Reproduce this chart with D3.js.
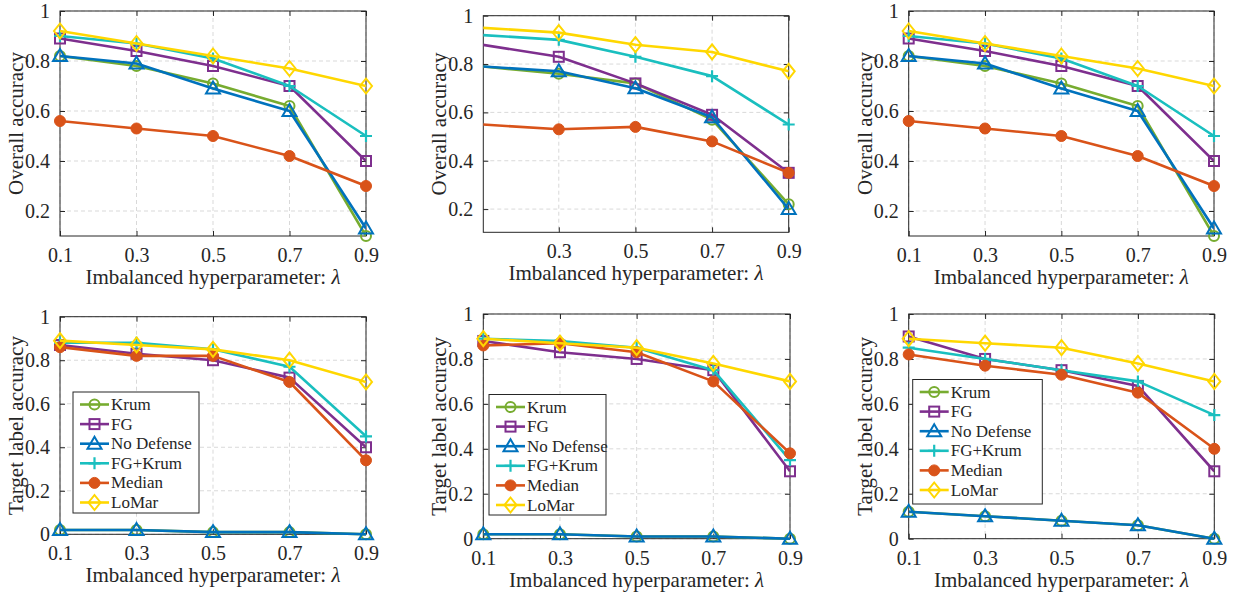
<!DOCTYPE html>
<html>
<head>
<meta charset="utf-8">
<script src="https://cdn.jsdelivr.net/npm/d3@7"></script>
<style>
  body { margin: 0; background: #fff; }
  svg, svg text { font-family: "Liberation Serif", "Times New Roman", serif; }
</style>
</head>
<body>
<div id="chart"></div>
<script>
(function () {

    // x values (imbalance hyperparameter)
    var lambdas = [0.1, 0.3, 0.5, 0.7, 0.9];
    var xTicks = [0.1, 0.3, 0.5, 0.7, 0.9];
    var yTicksOverall = [0.2, 0.4, 0.6, 0.8, 1];
    var yTicksTarget = [0, 0.2, 0.4, 0.6, 0.8, 1];

    var seriesNames = ["Krum", "FG", "No Defense", "FG+Krum", "Median", "LoMar"];
    var colors = ["#77AC30", "#7E2F8E", "#0072BD", "#1ABFBF", "#D95319", "#FFD700"];
    var markers = ["circle", "square", "triangle", "plus", "dot", "diamond"];

    // series rows follow seriesNames order
    var overallLeft = [
        [0.82, 0.78, 0.71, 0.62, 0.10],
        [0.89, 0.84, 0.78, 0.70, 0.40],
        [0.82, 0.79, 0.69, 0.60, 0.13],
        [0.90, 0.87, 0.81, 0.70, 0.50],
        [0.56, 0.53, 0.50, 0.42, 0.30],
        [0.92, 0.87, 0.82, 0.77, 0.70]
    ];
    var overallMid = [
        [0.79, 0.76, 0.72, 0.57, 0.22],
        [0.88, 0.83, 0.72, 0.59, 0.35],
        [0.79, 0.77, 0.70, 0.58, 0.20],
        [0.92, 0.90, 0.83, 0.75, 0.55],
        [0.55, 0.53, 0.54, 0.48, 0.35],
        [0.95, 0.93, 0.88, 0.85, 0.77]
    ];
    var overallRight = [
        [0.82, 0.78, 0.71, 0.62, 0.10],
        [0.89, 0.84, 0.78, 0.70, 0.40],
        [0.82, 0.79, 0.69, 0.60, 0.13],
        [0.90, 0.87, 0.81, 0.70, 0.50],
        [0.56, 0.53, 0.50, 0.42, 0.30],
        [0.92, 0.87, 0.82, 0.77, 0.70]
    ];
    var targetLeft = [
        [0.02, 0.02, 0.01, 0.01, 0.00],
        [0.87, 0.83, 0.80, 0.72, 0.40],
        [0.02, 0.02, 0.01, 0.01, 0.00],
        [0.88, 0.88, 0.85, 0.77, 0.45],
        [0.86, 0.82, 0.82, 0.70, 0.34],
        [0.89, 0.87, 0.85, 0.80, 0.70]
    ];
    var targetMid = [
        [0.02, 0.02, 0.01, 0.01, 0.00],
        [0.88, 0.83, 0.80, 0.75, 0.30],
        [0.02, 0.02, 0.01, 0.01, 0.00],
        [0.89, 0.88, 0.85, 0.75, 0.35],
        [0.86, 0.87, 0.83, 0.70, 0.38],
        [0.89, 0.87, 0.85, 0.78, 0.70]
    ];
    var targetRight = [
        [0.12, 0.10, 0.08, 0.06, 0.00],
        [0.90, 0.80, 0.75, 0.68, 0.30],
        [0.12, 0.10, 0.08, 0.06, 0.00],
        [0.85, 0.80, 0.75, 0.70, 0.55],
        [0.82, 0.77, 0.73, 0.65, 0.40],
        [0.89, 0.87, 0.85, 0.78, 0.70]
    ];

    //panel layout (pixel boxes + axis limits)
    var panels = [
        { data: overallLeft, ylabel: "Overall accuracy", x0: 60, x1: 366, y0: 11, y1: 236, xdom: [0.1, 0.9], ydom: [0.1, 1], yticks: yTicksOverall },
        { data: overallMid, ylabel: "Overall accuracy", x0: 483.3, x1: 788.7, y0: 15.7, y1: 232.3, xdom: [0.103, 0.9], ydom: [0.104, 1], yticks: yTicksOverall },
        { data: overallRight, ylabel: "Overall accuracy", x0: 908.7, x1: 1214, y0: 11, y1: 236, xdom: [0.1, 0.9], ydom: [0.1, 1], yticks: yTicksOverall },
        { data: targetLeft, ylabel: "Target label accuracy", x0: 60, x1: 366, y0: 316.7, y1: 534.3, xdom: [0.1, 0.9], ydom: [0, 1], yticks: yTicksTarget, legend: [73, 392, 126, 121] },
        { data: targetMid, ylabel: "Target label accuracy", x0: 483.3, x1: 790, y0: 314, y1: 538.7, xdom: [0.1, 0.9], ydom: [0, 1], yticks: yTicksTarget, legend: [489, 394.5, 117, 120.5] },
        { data: targetRight, ylabel: "Target label accuracy", x0: 908.7, x1: 1214.3, y0: 314, y1: 538.7, xdom: [0.1, 0.9], ydom: [0, 1], yticks: yTicksTarget, legend: [912.7, 379.5, 129.6, 124.5] }
    ];

    var axisColor = "#262626";
    var serif = "'Liberation Serif', 'Times New Roman', serif";
    var svg = d3.select("#chart").append("svg")
        .attr("width", 1235)
        .attr("height", 592)
        .attr("font-family", serif);

    var fmt = function (v) { return v === 1 ? "1" : v === 0 ? "0" : d3.format(".1f")(v); };

    function drawMarker(g, type, color, cx, cy) {
        if (type === "circle") {
            g.append("circle").attr("cx", cx).attr("cy", cy).attr("r", 5)
                .attr("fill", "none").attr("stroke", color).attr("stroke-width", 2);
        } else if (type === "dot") {
            g.append("circle").attr("cx", cx).attr("cy", cy).attr("r", 5.5)
                .attr("fill", color).attr("stroke", color).attr("stroke-width", 1);
        } else if (type === "square") {
            g.append("rect").attr("x", cx - 5).attr("y", cy - 5).attr("width", 10).attr("height", 10)
                .attr("fill", "none").attr("stroke", color).attr("stroke-width", 2);
        } else if (type === "triangle") {
            g.append("path").attr("d", "M" + cx + "," + (cy - 7) + "L" + (cx + 7) + "," + (cy + 5) + "L" + (cx - 7) + "," + (cy + 5) + "Z")
                .attr("fill", "none").attr("stroke", color).attr("stroke-width", 2).attr("stroke-linejoin", "miter");
        } else if (type === "plus") {
            g.append("path").attr("d", "M" + (cx - 6) + "," + cy + "H" + (cx + 6) + "M" + cx + "," + (cy - 6) + "V" + (cy + 6))
                .attr("fill", "none").attr("stroke", color).attr("stroke-width", 2.2);
        } else if (type === "diamond") {
            g.append("path").attr("d", "M" + cx + "," + (cy - 7.5) + "L" + (cx + 6) + "," + cy + "L" + cx + "," + (cy + 7.5) + "L" + (cx - 6) + "," + cy + "Z")
                .attr("fill", "none").attr("stroke", color).attr("stroke-width", 2);
        }
    }

    panels.forEach(function (p, pi) {
        var x = d3.scaleLinear().domain(p.xdom).range([p.x0, p.x1]);
        var y = d3.scaleLinear().domain(p.ydom).range([p.y1, p.y0]);
        var g = svg.append("g");

        var xt = xTicks.filter(function (t) { return t >= p.xdom[0] - 1e-9 && t <= p.xdom[1] + 1e-9; });
        var yt = p.yticks.filter(function (t) { return t >= p.ydom[0] - 1e-9 && t <= p.ydom[1] + 1e-9; });

        //dashed grid
        g.append("g").selectAll("line").data(xt).enter().append("line")
            .attr("x1", function (d) { return x(d); }).attr("x2", function (d) { return x(d); })
            .attr("y1", p.y0).attr("y2", p.y1)
            .attr("stroke", "#d9d9d9").attr("stroke-width", 1).attr("stroke-dasharray", "4,3");
        g.append("g").selectAll("line").data(yt).enter().append("line")
            .attr("y1", function (d) { return y(d); }).attr("y2", function (d) { return y(d); })
            .attr("x1", p.x0).attr("x2", p.x1)
            .attr("stroke", "#d9d9d9").attr("stroke-width", 1).attr("stroke-dasharray", "4,3");

        //axes with inward ticks on all four sides
        var tickStyle = function (sel) {
            sel.attr("font-family", serif).attr("font-size", 20);
            sel.select(".domain").remove();
            sel.selectAll(".tick line").attr("stroke", axisColor);
            sel.selectAll(".tick text").attr("fill", axisColor);
        };
        g.append("g").attr("transform", "translate(0," + p.y1 + ")")
            .call(d3.axisBottom(x).tickValues(xt).tickFormat(fmt).tickSizeInner(-5).tickPadding(12))
            .call(tickStyle);
        g.append("g").attr("transform", "translate(0," + p.y0 + ")")
            .call(d3.axisTop(x).tickValues(xt).tickFormat("").tickSizeInner(-5))
            .call(tickStyle);
        g.append("g").attr("transform", "translate(" + p.x0 + ",0)")
            .call(d3.axisLeft(y).tickValues(yt).tickFormat(fmt).tickSizeInner(-5).tickPadding(10))
            .call(tickStyle);
        g.append("g").attr("transform", "translate(" + p.x1 + ",0)")
            .call(d3.axisRight(y).tickValues(yt).tickFormat("").tickSizeInner(-5))
            .call(tickStyle);

        g.append("rect").attr("x", p.x0).attr("y", p.y0)
            .attr("width", p.x1 - p.x0).attr("height", p.y1 - p.y0)
            .attr("fill", "none").attr("stroke", axisColor).attr("stroke-width", 1);

        //axis labels
        var xl = g.append("text")
            .attr("x", (p.x0 + p.x1) / 2).attr("y", p.y1 + 48)
            .attr("text-anchor", "middle").attr("fill", axisColor)
            .attr("font-family", serif).attr("font-size", 21);
        xl.append("tspan").text("Imbalanced hyperparameter: ");
        xl.append("tspan").attr("font-style", "italic").text("λ");

        g.append("text")
            .attr("transform", "translate(" + (p.x0 - 37) + "," + ((p.y0 + p.y1) / 2) + ") rotate(-90)")
            .attr("text-anchor", "middle").attr("fill", axisColor)
            .attr("font-family", serif).attr("font-size", 21)
            .text(p.ylabel);

        //series
        var clipId = "clip" + pi;
        svg.append("clipPath").attr("id", clipId).append("rect")
            .attr("x", p.x0).attr("y", p.y0 - 10).attr("width", p.x1 - p.x0).attr("height", p.y1 - p.y0 + 20);

        var line = d3.line()
            .x(function (d) { return x(d[0]); })
            .y(function (d) { return y(d[1]); });

        p.data.forEach(function (vals, si) {
            var pts = lambdas.map(function (l, i) { return [l, vals[i]]; });
            var sg = g.append("g");
            sg.append("path").datum(pts)
                .attr("clip-path", "url(#" + clipId + ")")
                .attr("d", line)
                .attr("fill", "none").attr("stroke", colors[si]).attr("stroke-width", 2.6)
                .attr("stroke-linejoin", "round");
            pts.forEach(function (d) {
                if (d[0] < p.xdom[0] - 1e-9) return;
                drawMarker(sg, markers[si], colors[si], x(d[0]), y(d[1]));
            });
        });

        //legend
        if (p.legend) {
            var L = p.legend;
            var lg = g.append("g");
            lg.append("rect").attr("x", L[0]).attr("y", L[1]).attr("width", L[2]).attr("height", L[3])
                .attr("fill", "#fff").attr("stroke", axisColor).attr("stroke-width", 1);
            seriesNames.forEach(function (name, si) {
                var cy = L[1] + 12.5 + si * 19.6;
                lg.append("line").attr("x1", L[0] + 7).attr("x2", L[0] + 36)
                    .attr("y1", cy).attr("y2", cy)
                    .attr("stroke", colors[si]).attr("stroke-width", 2.6);
                drawMarker(lg, markers[si], colors[si], L[0] + 21.5, cy);
                lg.append("text").attr("x", L[0] + 38).attr("y", cy + 5.5)
                    .attr("fill", axisColor).attr("font-family", serif).attr("font-size", 17)
                    .text(name);
            });
        }
    });

})();
</script>
</body>
</html>
